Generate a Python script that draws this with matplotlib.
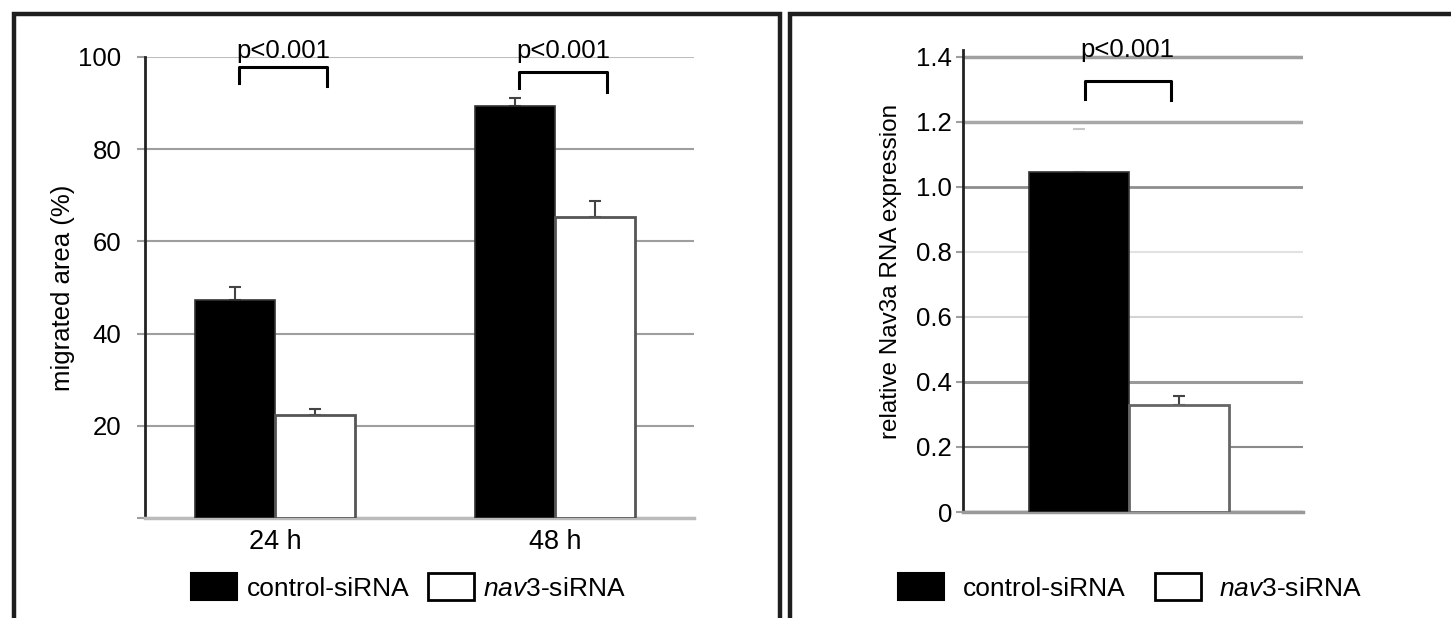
import matplotlib
matplotlib.use("Agg")
import matplotlib.pyplot as plt
from matplotlib.patches import Patch, Rectangle

plt.rcParams["font.family"] = ["Liberation Sans", "DejaVu Sans"]
plt.rcParams["mathtext.fontset"] = "custom"
plt.rcParams["mathtext.rm"] = "Liberation Sans"
plt.rcParams["mathtext.it"] = "Liberation Sans:italic"

# left panel: migration assay
time_points = ["24 h", "48 h"]
control_migrated = [47.3, 89.3]
control_migrated_err = [2.9, 1.9]
nav3_migrated = [22.4, 65.4]
nav3_migrated_err = [1.3, 3.4]
left_yticks = [0, 20, 40, 60, 80, 100]
left_yticklabels = ["", "20", "40", "60", "80", "100"]
left_brackets = [(97.8, 94.3, 93.7), (96.7, 93.3, 92.4)]  # top, left leg end, right leg end

# right panel: qPCR
control_expr = [1.046]
control_expr_err = [0.13]
nav3_expr = [0.329]
nav3_expr_err = [0.028]
right_yticks = [0, 0.2, 0.4, 0.6, 0.8, 1.0, 1.2, 1.4]
right_yticklabels = ["0", "0.2", "0.4", "0.6", "0.8", "1.0", "1.2", "1.4"]
right_bracket = (1.326, 1.268, 1.265)

p_label = "p<0.001"
series_labels = ["control-siRNA", r"$\mathit{nav3}$-siRNA"]

W, H = 1451, 618
fig = plt.figure(figsize=(W / 100, H / 100), dpi=100)


def box(x0, x1, y_top, y_bot):
    return [x0 / W, (H - y_bot) / H, (x1 - x0) / W, (y_bot - y_top) / H]


# panel frames
fig.add_artist(Rectangle((14.5 / W, -0.05), (779.5 - 14.5) / W, 0.05 + (H - 13.5) / H,
                         transform=fig.transFigure, fill=False, lw=3.2, ec="#1e1e1e"))
fig.add_artist(Rectangle((790.5 / W, -0.05), 0.5, 0.05 + (H - 13.5) / H,
                         transform=fig.transFigure, fill=False, lw=3.2, ec="#1e1e1e"))

err_kw = dict(ecolor="#444444", elinewidth=1.5, capsize=4.5, capthick=1.5)
tick_fs = 18.5

# ---------- left panel ----------
ax = fig.add_axes(box(145, 694, 57, 518))
w = 0.286
xs = list(range(len(time_points)))
ax.bar([x - w / 2 for x in xs], control_migrated, w, color="black", edgecolor="#333333", lw=1.2, zorder=3)
ax.bar([x + w / 2 for x in xs], nav3_migrated, w, color="white", edgecolor="#555555", lw=2, zorder=3)
ax.errorbar([x - w / 2 for x in xs], control_migrated, yerr=[[0] * 2, control_migrated_err],
            fmt="none", zorder=2, **err_kw)
ax.errorbar([x + w / 2 for x in xs], nav3_migrated, yerr=[[0] * 2, nav3_migrated_err],
            fmt="none", zorder=2, **err_kw)
ax.set_xlim(-0.464, 1.496)
ax.set_ylim(0, 100)
ax.set_yticks(left_yticks, left_yticklabels)
ax.set_xticks(xs, time_points)
ax.tick_params(axis="y", length=6, width=1.5, color="#9e9e9e", pad=11, labelsize=tick_fs)
ax.tick_params(axis="x", length=0, pad=8, labelsize=19.5)
ax.grid(axis="y", color="#9e9e9e", lw=1.5, zorder=0)
ax.get_ygridlines()[-1].set_color("#bdbdbd")
for s in ["top", "right"]:
    ax.spines[s].set_visible(False)
ax.spines["bottom"].set_color("#bbbbbb")
ax.spines["bottom"].set_linewidth(2.5)
ax.spines["left"].set_color("#222222")
ax.spines["left"].set_linewidth(2)
ax.set_ylabel("migrated area (%)", fontsize=18.5)
ax.yaxis.set_label_coords(-0.128, 0.5)
for x, (top, l_end, r_end) in zip(xs, left_brackets):
    x0, x1 = x - 0.13, x + 0.185
    ax.plot([x0, x0, x1, x1], [l_end, top, top, r_end], color="black", lw=2.2, clip_on=False, zorder=4)
    ax.text(x + 0.03, 99.8, p_label, ha="center", va="baseline", fontsize=18.5, clip_on=False, zorder=5)
ax.legend(handles=[Patch(fc="black", ec="black", lw=1.5), Patch(fc="white", ec="black", lw=2)],
          labels=series_labels, loc="center", bbox_to_anchor=(408.5 / W, (H - 587) / H),
          bbox_transform=fig.transFigure, ncol=2, frameon=False, fontsize=19,
          handlelength=1.75, handleheight=1.15, handletextpad=0.35, columnspacing=0.7, borderpad=0)

# ---------- right panel ----------
ax2 = fig.add_axes(box(963, 1303, 50, 512))
w2 = 1.0
ax2.bar([-w2 / 2], control_expr, w2, color="black", edgecolor="#333333", lw=1.2, zorder=3)
ax2.bar([w2 / 2], nav3_expr, w2, color="white", edgecolor="#666666", lw=2, zorder=3)
ax2.errorbar([-w2 / 2], control_expr, yerr=[[0], control_expr_err], fmt="none",
             ecolor="#c8c8c8", elinewidth=0, capsize=4, capthick=1.5, zorder=2)
ax2.errorbar([w2 / 2], nav3_expr, yerr=[[0], nav3_expr_err], fmt="none", zorder=2, **err_kw)
ax2.set_xlim(-1.66, 1.74)
ax2.set_ylim(0, 1.42)
ax2.set_yticks(right_yticks, right_yticklabels)
ax2.set_xticks([])
ax2.tick_params(axis="y", length=5, width=1.5, color="#9e9e9e", pad=3, labelsize=tick_fs)
ax2.grid(axis="y", color="#9e9e9e", lw=1.5, zorder=0)
grid_styles = [("#999999", 2.5), ("#8a8a8a", 1.5), ("#999999", 2.2), ("#d4d4d4", 1.5),
               ("#e2e2e2", 1.5), ("#8e8e8e", 2.0), ("#a8a8a8", 2.5), ("#a0a0a0", 2.5)]
for gl, (c, lw) in zip(ax2.get_ygridlines(), grid_styles):
    gl.set_color(c)
    gl.set_linewidth(lw)
for s in ["top", "right"]:
    ax2.spines[s].set_visible(False)
ax2.spines["bottom"].set_color("#999999")
ax2.spines["bottom"].set_linewidth(2.5)
ax2.spines["left"].set_color("#222222")
ax2.spines["left"].set_linewidth(2)
ax2.set_ylabel("relative Nav3a RNA expression", fontsize=17.5)
ax2.yaxis.set_label_coords(-0.178, 0.52)
top, l_end, r_end = right_bracket
ax2.plot([-0.44, -0.44, 0.42, 0.42], [l_end, top, top, r_end], color="black", lw=2.2, clip_on=False, zorder=4)
ax2.text(-0.02, 1.4, p_label, ha="center", va="baseline", fontsize=18.5, clip_on=False, zorder=5)
ax2.legend(handles=[Patch(fc="black", ec="black", lw=1.5), Patch(fc="white", ec="black", lw=2)],
           labels=series_labels, loc="center", bbox_to_anchor=(1130 / W, (H - 587) / H),
           bbox_transform=fig.transFigure, ncol=2, frameon=False, fontsize=19,
           handlelength=1.75, handleheight=1.15, handletextpad=0.7, columnspacing=1.1, borderpad=0)

fig.savefig("out.png", dpi=100)
